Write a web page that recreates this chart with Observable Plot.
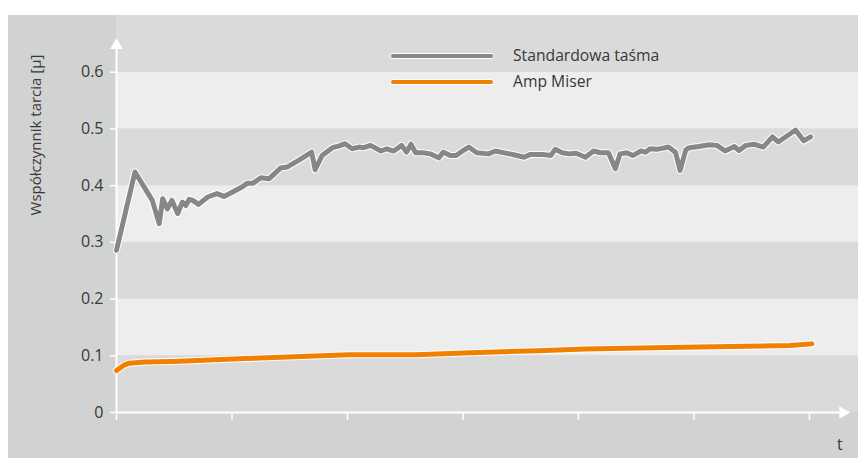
<!DOCTYPE html>
<html>
<head>
<meta charset="utf-8">
<script src="https://cdn.jsdelivr.net/npm/d3@7"></script>
<script src="https://cdn.jsdelivr.net/npm/@observablehq/plot@0.6"></script>
<style>
  html, body { margin: 0; padding: 0; background: #fff; }
  #wrap { position: relative; width: 858px; height: 458px; background: #fff; overflow: hidden;
          font-family: "Open Sans", sans-serif; color: #383838; }
  #chart { position: absolute; left: 8px; top: 15px; }
  .lg-line { position: absolute; left: 390px; width: 102px; height: 4px; border: 1px solid #fff; border-radius: 3px; }
  .lg-text { position: absolute; left: 513px; font-size: 15.7px; line-height: 20px; white-space: nowrap; }
  #ylab { position: absolute; left: 35px; top: 135px; transform: translate(-50%, -50%) rotate(-90deg);
          font-size: 15px; white-space: nowrap; }
  #tlab { position: absolute; left: 837px; top: 433px; font-size: 16px; }
</style>
</head>
<body>
<div id="wrap">
  <div id="chart"></div>
  <div class="lg-line" style="top:53px; background:#878787"></div>
  <div class="lg-text" style="top:45px">Standardowa taśma</div>
  <div class="lg-line" style="top:79px; background:#f08000"></div>
  <div class="lg-text" style="top:71px">Amp Miser</div>
  <div id="ylab">Współczynnik tarcia [µ]</div>
  <div id="tlab">t</div>
</div>
<script>
const seriesNames = ["Standardowa taśma", "Amp Miser"];

const tGray = [0,1.6,3.1,3.7,4.0,4.4,4.8,5.3,5.7,6.0,6.3,6.6,7.1,7.9,8.7,9.3,9.9,10.9,11.3,11.8,12.5,13.2,14.2,14.8,15.8,16.9,17.2,17.8,18.7,19.3,19.8,20.4,21.0,21.4,22.0,22.9,23.4,24.0,24.7,25.1,25.5,25.9,26.5,27.2,27.9,28.3,28.9,29.4,29.8,30.5,31.2,32.2,32.8,34.3,35.3,35.8,36.9,37.6,38.0,38.6,39.2,39.8,40.6,41.3,41.9,42.6,43.2,43.6,44.2,44.7,45.4,45.8,46.2,46.8,47.8,48.4,48.8,49.3,49.6,50.4,51.3,52.0,52.7,53.5,53.9,54.5,55.2,56.0,56.8,57.3,58.8,59.5,60.1];
const muGray = [0.286,0.424,0.374,0.333,0.377,0.359,0.374,0.351,0.371,0.365,0.376,0.374,0.367,0.380,0.386,0.381,0.387,0.398,0.404,0.404,0.414,0.412,0.431,0.433,0.445,0.459,0.428,0.453,0.467,0.470,0.474,0.465,0.468,0.467,0.471,0.461,0.465,0.461,0.471,0.459,0.473,0.458,0.458,0.456,0.449,0.459,0.453,0.453,0.459,0.468,0.458,0.456,0.461,0.455,0.450,0.455,0.455,0.453,0.464,0.458,0.456,0.457,0.450,0.461,0.458,0.458,0.430,0.456,0.458,0.453,0.461,0.459,0.465,0.464,0.468,0.459,0.427,0.463,0.467,0.469,0.472,0.471,0.461,0.469,0.462,0.471,0.473,0.468,0.486,0.477,0.498,0.479,0.486];

const tOrange = [0,0.6,1.1,2.5,4.9,11.2,20.1,25.9,30.1,36.5,40.6,49.0,58.3,60.2];
const muOrange = [0.074,0.083,0.087,0.089,0.090,0.095,0.102,0.102,0.105,0.109,0.112,0.115,0.118,0.121];

const yTicks = [0,0.1,0.2,0.3,0.4,0.5,0.6];
const xTicks = [0,10,20,30,40,50,60];
const bandEdges = [0,0.1,0.2,0.3,0.4,0.5,0.6,0.7];

const gray = tGray.map((t,i) => ({t, mu: muGray[i], s: seriesNames[0]}));
const orange = tOrange.map((t,i) => ({t, mu: muOrange[i], s: seriesNames[1]}));
const bands = bandEdges.slice(0,-1).map((y1,i) => ({y1, y2: bandEdges[i+1], dark: i % 2 === 0}));

const chart = Plot.plot({
  width: 850,
  height: 443,
  marginLeft: 108,
  marginRight: 0,
  marginTop: 0,
  marginBottom: 46,
  style: {background: "#d1d3d2", fontFamily: "'Open Sans', sans-serif", fontSize: "16px", color: "#383838"},
  x: {domain: [0, 64.25], axis: null},
  y: {domain: [0, 0.7], axis: null},
  marks: [
    Plot.rect(bands, {y1: "y1", y2: "y2", fill: d => d.dark ? "#dadada" : "#ededed"}),
    Plot.axisY({ticks: yTicks, tickSize: 6, tickPadding: 7, stroke: "#fff", strokeWidth: 1.5, fill: "#383838",
                label: null, fontSize: 16, tickFormat: d => d === 0 ? "0" : d3.format(".1f")(d)}),
    Plot.axisX({ticks: xTicks, tickSize: 8, tickFormat: () => "", stroke: "#fff", strokeWidth: 1.5, label: null}),
    Plot.ruleX([0], {y1: 0, y2: 0.64, stroke: "#fff", strokeWidth: 2}),
    Plot.ruleY([0], {x1: 0, x2: 62.6, stroke: "#fff", strokeWidth: 2}),
    Plot.dot([0], {x: 0, y: () => 0.6475, symbol: "triangle", r: 4.7, fill: "#fff", stroke: null}),
    Plot.dot([0], {x: () => 62.9, y: 0, symbol: "triangle", r: 4.7, rotate: 90, fill: "#fff", stroke: null}),
    Plot.line(orange, {x: "t", y: "mu", stroke: "#fff", strokeWidth: 7, strokeLinejoin: "round", strokeLinecap: "round"}),
    Plot.line(orange, {x: "t", y: "mu", stroke: "#f08000", strokeWidth: 5, strokeLinejoin: "round", strokeLinecap: "round"}),
    Plot.line(gray, {x: "t", y: "mu", stroke: "#fff", strokeWidth: 7, strokeLinejoin: "round", strokeLinecap: "round"}),
    Plot.line(gray, {x: "t", y: "mu", stroke: "#878787", strokeWidth: 5, strokeLinejoin: "round", strokeLinecap: "round"})
  ]
});
document.getElementById("chart").appendChild(chart);
</script>
</body>
</html>
